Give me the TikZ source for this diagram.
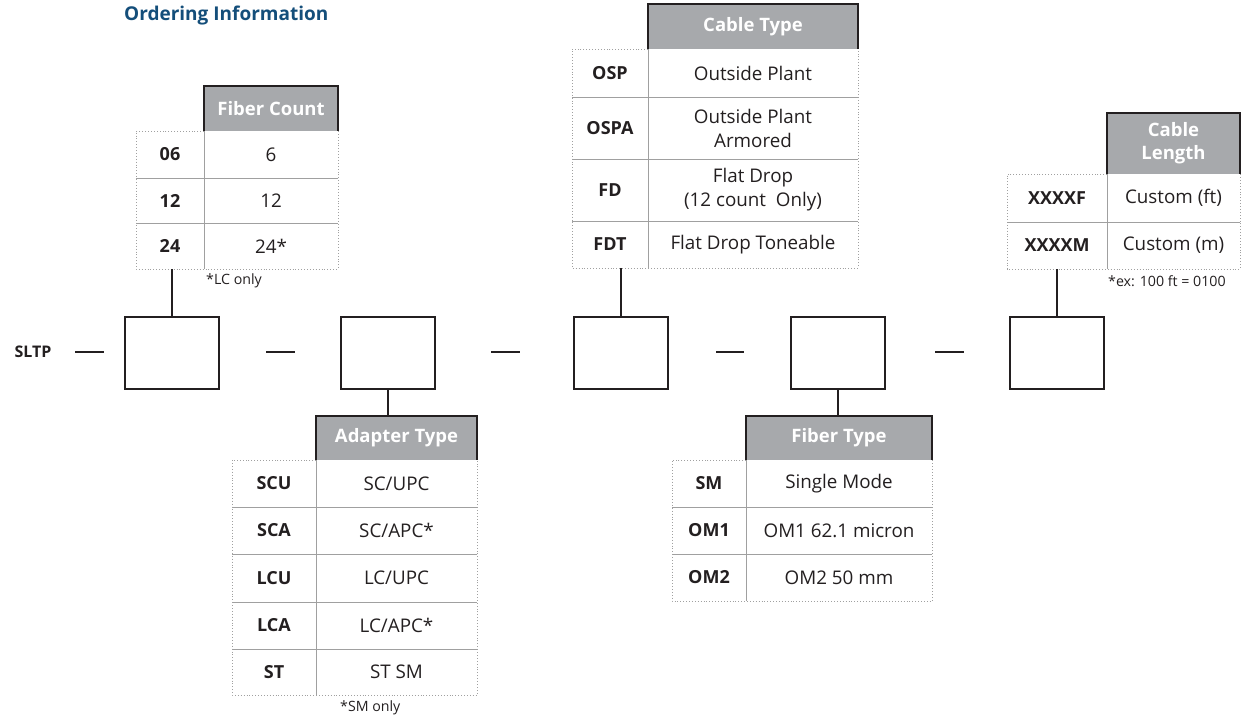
\documentclass[tikz,border=0pt]{standalone}
\usepackage{fontspec}
\setmainfont{Open Sans}
\definecolor{titleblue}{RGB}{20,78,122}
\definecolor{hdrgray}{RGB}{167,169,172}
\definecolor{ink}{RGB}{35,31,32}
\definecolor{grid}{RGB}{160,160,160}
\tikzset{
  hdr/.style={fill=none, draw=none, inner sep=0pt, text=white, font=\fontsize{18.5}{23}\selectfont\bfseries, align=center},
  hdrline/.style={draw=ink, line width=1.5pt},
  dotb/.style={draw=grid, line width=0.9pt, dotted},
  gridl/.style={draw=grid, line width=1pt},
  code/.style={font=\fontsize{18}{22}\selectfont\bfseries, text=ink, align=center},
  desc/.style={font=\fontsize{18.8}{24}\selectfont, text=ink, align=center},
  note/.style={font=\fontsize{14.2}{16}\selectfont, text=ink, anchor=west, inner sep=0pt},
  slot/.style={draw=ink, line width=2.4pt, minimum width=94pt, minimum height=72pt, inner sep=0pt},
  conn/.style={draw=ink, line width=2.4pt},
}
\begin{document}
\begin{tikzpicture}[x=1pt,y=-1pt]
\useasboundingbox (0,0) rectangle (1247,717);
% title
\node[font=\fontsize{19}{22}\selectfont\bfseries, text=titleblue, anchor=west, inner sep=0pt] (title) at (124,16) {Ordering Information};

% ---------- Fiber Count ----------
\fill[hdrgray] (204,86) rectangle (338,131);
\node[hdr] (fch) at (271,108.5) {Fiber Count};
\draw[hdrline] (204,131) |- (338,86) -- (338,131);
\draw[gridl] (136,178) -- (338,178) (136,223) -- (338,223) (204,131) -- (204,269);
\draw[dotb] (204,131) -- (136,131) -- (136,269) -- (338,269) -- (338,131);
\node[code] (fc1) at (170,154.5) {06}; \node[desc] (fd1) at (271,154.5) {6};
\node[code] (fc2) at (170,200.5) {12}; \node[desc] (fd2) at (271,200.5) {12};
\node[code] (fc3) at (170,246) {24};   \node[desc] (fd3) at (271,246) {24*};
\coordinate (fcb) at (172,269);
\node[note] (fcn) at (206,281) {*LC only};

% ---------- Cable Type ----------
\fill[hdrgray] (648,4) rectangle (858,49);
\node[hdr] (cth) at (753,26.5) {Cable Type};
\draw[hdrline] (648,49) |- (858,4) -- (858,49);
\draw[gridl] (572,97) -- (858,97) (572,159) -- (858,159) (572,221) -- (858,221) (648,49) -- (648,268);
\draw[dotb] (648,49) -- (572,49) -- (572,268) -- (858,268) -- (858,49);
\node[code] (ct1) at (610,73) {OSP};  \node[desc] (cd1) at (753,73) {Outside Plant};
\node[code] (ct2) at (610,128) {OSPA}; \node[desc] (cd2) at (753,128) {Outside Plant\\Armored};
\node[code] (ct3) at (610,190) {FD};   \node[desc] (cd3) at (753,190) {Flat Drop\\(12 count\ \ Only)};
\node[code] (ct4) at (610,244.5) {FDT}; \node[desc] (cd4) at (753,244.5) {Flat Drop Toneable};
\coordinate (ctb) at (621,268);

% ---------- Cable Length ----------
\fill[hdrgray] (1107,113) rectangle (1240,174);
\node[hdr] (clh) at (1173.5,143.5) {Cable\\Length};
\draw[hdrline] (1107,174) |- (1240,113) -- (1240,174);
\draw[gridl] (1007,222) -- (1240,222) (1107,174) -- (1107,269);
\draw[dotb] (1107,174) -- (1007,174) -- (1007,269) -- (1240,269) -- (1240,174);
\node[code] (cl1) at (1057,198) {XXXXF}; \node[desc] (cld1) at (1173.5,198) {Custom (ft)};
\node[code] (cl2) at (1057,245.5) {XXXXM}; \node[desc] (cld2) at (1173.5,245.5) {Custom (m)};
\coordinate (clb) at (1057,269);
\node[note] (cln) at (1108,281) {*ex: 100 ft = 0100};

% ---------- Adapter Type ----------
\fill[hdrgray] (316,416) rectangle (477,460);
\node[hdr] (ath) at (396.5,438) {Adapter Type};
\draw[hdrline] (316,460) |- (477,416) -- (477,460);
\draw[gridl] (232,507) -- (477,507) (232,554) -- (477,554) (232,602) -- (477,602) (232,649) -- (477,649) (316,460) -- (316,695);
\draw[dotb] (316,460) -- (232,460) -- (232,695) -- (477,695) -- (477,460);
\node[code] (at1) at (274,483.5) {SCU}; \node[desc] (ad1) at (396.5,483.5) {SC/UPC};
\node[code] (at2) at (274,530.5) {SCA}; \node[desc] (ad2) at (396.5,530.5) {SC/APC*};
\node[code] (at3) at (274,578) {LCU}; \node[desc] (ad3) at (396.5,578) {LC/UPC};
\node[code] (at4) at (274,625.5) {LCA}; \node[desc] (ad4) at (396.5,625.5) {LC/APC*};
\node[code] (at5) at (274,672) {ST};  \node[desc] (ad5) at (396.5,672) {ST SM};
\coordinate (att) at (388,416);
\node[note] (atn) at (340,708) {*SM only};

% ---------- Fiber Type ----------
\fill[hdrgray] (746,416) rectangle (932,460);
\node[hdr] (fth) at (839,438) {Fiber Type};
\draw[hdrline] (746,460) |- (932,416) -- (932,460);
\draw[gridl] (672,507) -- (932,507) (672,554) -- (932,554) (746,460) -- (746,601);
\draw[dotb] (746,460) -- (672,460) -- (672,601) -- (932,601) -- (932,460);
\node[code] (ft1) at (709,483.5) {SM};  \node[desc] (ftd1) at (839,483.5) {Single Mode};
\node[code] (ft2) at (709,530.5) {OM1}; \node[desc] (ftd2) at (839,530.5) {OM1 62.1 micron};
\node[code] (ft3) at (709,577.5) {OM2}; \node[desc] (ftd3) at (839,577.5) {OM2 50 mm};
\coordinate (ftt) at (838,416);

% ---------- part number row ----------
\node[code, font=\fontsize{16}{19}\selectfont\bfseries] (sltp) at (33,352) {SLTP};
\node[slot] (b1) at (172,353) {};
\node[slot] (b2) at (388,353) {};
\node[slot] (b3) at (621,353) {};
\node[slot] (b4) at (838,353) {};
\node[slot] (b5) at (1057,353) {};
\coordinate (d0a) at (75,352); \coordinate (d0b) at (104,352);
\coordinate (d1a) at (266,352); \coordinate (d1b) at (295,352);
\coordinate (d2a) at (491,352); \coordinate (d2b) at (520,352);
\coordinate (d3a) at (716,352); \coordinate (d3b) at (744,352);
\coordinate (d4a) at (935,352); \coordinate (d4b) at (964,352);
\draw[conn] (d0a) -- (d0b) (d1a) -- (d1b) (d2a) -- (d2b) (d3a) -- (d3b) (d4a) -- (d4b);

% connectors
\draw[conn] (fcb) -- (b1.north);
\draw[conn] (b2.south) -- (att);
\draw[conn] (ctb) -- (b3.north);
\draw[conn] (b4.south) -- (ftt);
\draw[conn] (clb) -- (b5.north);
\end{tikzpicture}
\end{document}
